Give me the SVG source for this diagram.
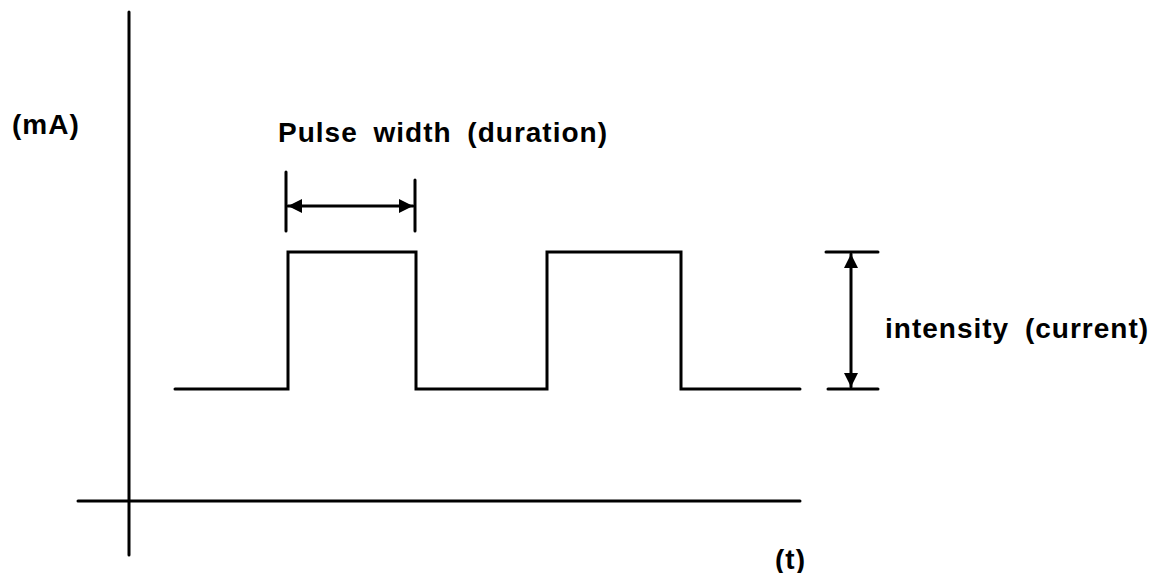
<svg xmlns="http://www.w3.org/2000/svg" width="1156" height="573" viewBox="0 0 1156 573">
<style>
.ln{stroke:#000;stroke-width:3;fill:none;stroke-linecap:round;stroke-linejoin:miter}
.t{font-family:"Liberation Sans",Arial,sans-serif;font-weight:bold;font-size:28px;letter-spacing:1px;word-spacing:7px;fill:#000}
</style>
<defs>
<marker id="ah" viewBox="0 0 10 10" refX="10" refY="5" markerWidth="22" markerHeight="14" markerUnits="userSpaceOnUse" orient="auto-start-reverse">
<path d="M0,0 L10,5 L0,10 Z" fill="#000"/>
</marker>
</defs>
<rect width="1156" height="573" fill="#fff"/>
<g id="axes">
<line class="ln" x1="129" y1="12" x2="129" y2="555"/>
<line class="ln" x1="78" y1="501" x2="800" y2="501"/>
</g>
<g id="signal">
<polyline class="ln" points="175,389 288,389 288,252 416,252 416,389 547,389 547,252 681,252 681,389 800,389"/>
</g>
<g id="connectors">
<line class="ln" x1="286" y1="172" x2="286" y2="231"/>
<line class="ln" x1="415" y1="180" x2="415" y2="231"/>
<line class="ln" x1="288" y1="206" x2="413" y2="206" marker-start="url(#ah)" marker-end="url(#ah)"/>
<line class="ln" x1="826" y1="252" x2="878" y2="252"/>
<line class="ln" x1="828" y1="389" x2="878" y2="389"/>
<line class="ln" x1="851" y1="254" x2="851" y2="387" marker-start="url(#ah)" marker-end="url(#ah)"/>
</g>
<g id="labels">
<text class="t" x="12" y="134">(mA)</text>
<text class="t" x="278" y="142">Pulse width (duration)</text>
<text class="t" x="885" y="338">intensity (current)</text>
<text class="t" x="775" y="569">(t)</text>
</g>
</svg>
